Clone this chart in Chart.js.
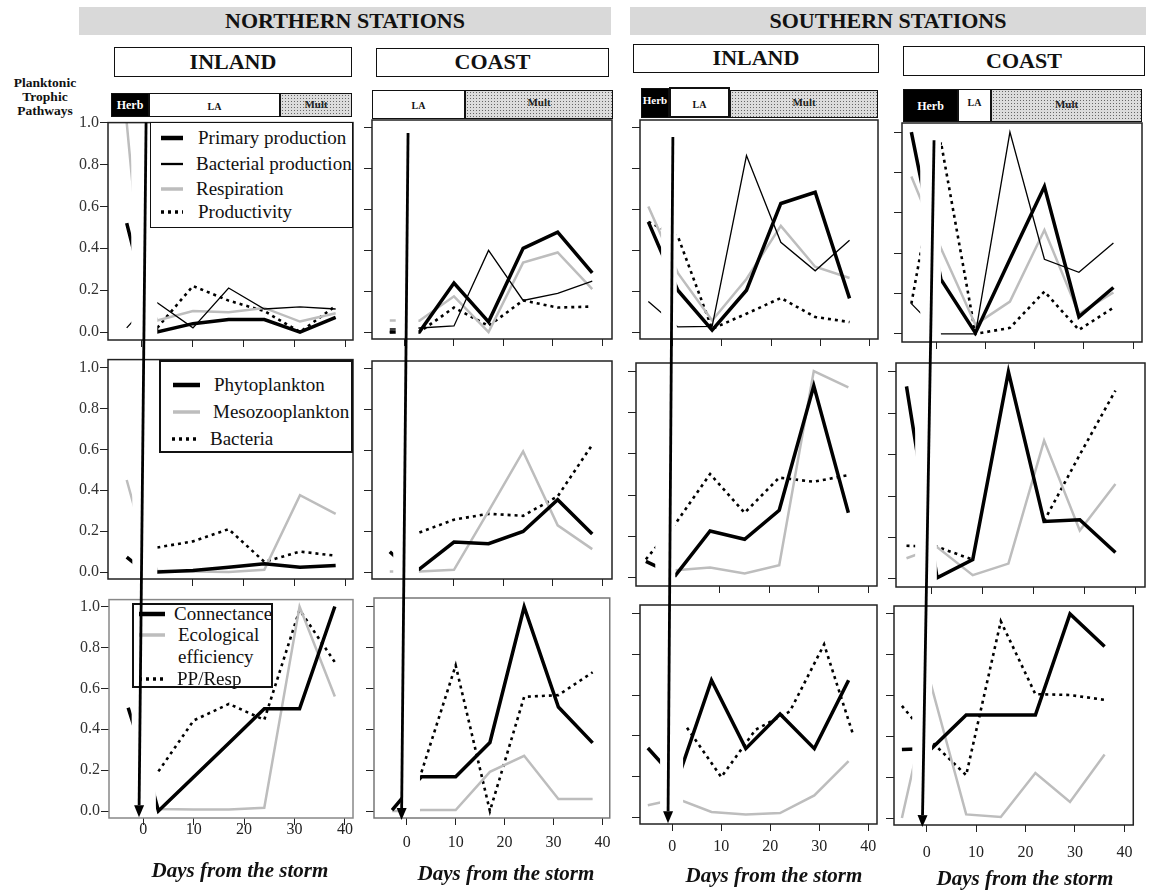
<!DOCTYPE html>
<html>
<head>
<meta charset="utf-8">
<script src="https://cdn.jsdelivr.net/npm/chart.js@4.4.1/dist/chart.umd.min.js"></script>
<style>
  body { margin: 0; background: #fff; width: 1151px; height: 892px; position: relative; overflow: hidden;
         font-family: "Liberation Serif", "DejaVu Serif", serif; color: #111; }
  canvas { position: absolute; }
  .band { position: absolute; background: #d9d9d9; font-weight: bold; font-size: 22px; text-align: center; line-height: 28px; }
  .site { position: absolute; border: 1.5px solid #111; box-sizing: border-box; font-weight: bold; font-size: 22px; text-align: center; background: #fff; }
  .path { position: absolute; box-sizing: border-box; border: 1.2px solid #111; font-weight: bold; text-align: center; }
  .herb { background: #000; color: #fff; font-size: 12px; }
  .la { background: #fff; font-size: 10px; }
  .mult { background-color: #dcdcdc; background-image: radial-gradient(circle, #666 38%, transparent 44%);
          background-size: 3px 3px; font-size: 11px; color: #222; }
  .legend { position: absolute; border: 1.5px solid #111; background: #fff; box-sizing: border-box; font-size: 19px; }
  .legend div { position: absolute; white-space: nowrap; line-height: 22px; }
  .legend svg { position: absolute; }
  .xtitle { position: absolute; font-weight: bold; font-style: italic; font-size: 21px; white-space: nowrap; transform: translate(-50%, -50%); }
  .side { position: absolute; left: 0; top: 76px; width: 90px; font-weight: bold; font-size: 13.5px; line-height: 14px; text-align: center; }
</style>
</head>
<body>
<div class="band" style="left:79px;top:7px;width:532px;height:28px">NORTHERN STATIONS</div>
<div class="band" style="left:630px;top:7px;width:516px;height:28px">SOUTHERN STATIONS</div>
<div class="site" style="left:114px;top:47px;width:238px;height:30px;line-height:27px">INLAND</div>
<div class="site" style="left:376px;top:48px;width:233px;height:29px;line-height:26px">COAST</div>
<div class="site" style="left:633px;top:44px;width:246px;height:29px;line-height:26px">INLAND</div>
<div class="site" style="left:903px;top:46px;width:242px;height:30px;line-height:27px">COAST</div>
<div class="side">Planktonic<br>Trophic<br>Pathways</div>

<div class="path herb" style="left:111px;top:93px;width:38px;height:24px;line-height:22px">Herb</div>
<div class="path la" style="left:149px;top:93px;width:131px;height:24px;line-height:26px">LA</div>
<div class="path mult" style="left:280px;top:93px;width:72px;height:24px;line-height:20px">Mult</div>

<div class="path la" style="left:372px;top:90px;width:93px;height:29px;line-height:30px">LA</div>
<div class="path mult" style="left:465px;top:90px;width:148px;height:29px;line-height:22px">Mult</div>

<div class="path herb" style="left:641px;top:88px;width:28px;height:30px;line-height:22px;font-size:11px">Herb</div>
<div class="path la" style="left:669px;top:87px;width:61px;height:31px;line-height:32px;border-width:2px">LA</div>
<div class="path mult" style="left:730px;top:90px;width:148px;height:28px;line-height:22px">Mult</div>

<div class="path herb" style="left:903px;top:89px;width:55px;height:33px;line-height:33px">Herb</div>
<div class="path la" style="left:958px;top:89px;width:33px;height:33px;line-height:26px">LA</div>
<div class="path mult" style="left:991px;top:89px;width:151px;height:33px;line-height:28px">Mult</div>

<script>
// sampling days (day 0 = storm; the day-0 value of the northern series sits under the storm arrow)
const daysNorth = [-3, 0, 3, 10, 17, 24, 31, 38]
const daysSouth = [-5, 1, 8, 15, 22, 29, 36]
const daysSouthInlandPPResp = [3, 10, 17, 24, 31, 37]
const xTicks = [0, 10, 20, 30, 40]
const yTicks = [0, 0.2, 0.4, 0.6, 0.8, 1.0]

// row 1: production / respiration (scaled 0-1)
const northInlandPrimary = [0.52, 0.23, 0.0, 0.04, 0.06, 0.06, 0.0, 0.07]
const northInlandBacterial = [0.02, 0.1, 0.14, 0.02, 0.21, 0.11, 0.12, 0.11]
const northInlandRespiration = [1.0, 0.22, 0.055, 0.1, 0.095, 0.115, 0.05, 0.09]
const northInlandProductivity = [null, null, 0.02, 0.22, 0.15, 0.1, 0.0, 0.125]

const northCoastPrimary = [0.0, 0.0, 0.0, 0.24, 0.05, 0.41, 0.49, 0.29]
const northCoastBacterial = [0.015, 0.015, 0.02, 0.03, 0.4, 0.155, 0.19, 0.25]
const northCoastRespiration = [0.057, 0.057, 0.055, 0.175, 0.0, 0.34, 0.39, 0.21]
const northCoastProductivity = [0.0, 0.0, 0.0, 0.12, 0.03, 0.155, 0.12, 0.125]

const southInlandPrimary = [0.54, 0.205, 0.01, 0.205, 0.63, 0.685, 0.165]
const southInlandBacterial = [0.15, 0.025, 0.028, 0.865, 0.44, 0.3, 0.45]
const southInlandRespiration = [0.615, 0.29, 0.057, 0.26, 0.52, 0.32, 0.265]
const southInlandProductivity = [0.54, 0.47, 0.016, 0.09, 0.167, 0.074, 0.049]

const southCoastPrimary = [1.0, 0.27, 0.005, 0.37, 0.73, 0.085, 0.23]
const southCoastBacterial = [0.15, 0.0, 0.0, 1.0, 0.37, 0.305, 0.45]
const southCoastRespiration = [0.78, 0.425, 0.046, 0.16, 0.515, 0.1, 0.205]
const southCoastProductivity = [0.15, 0.95, 0.0, 0.03, 0.21, 0.02, 0.13]

// row 2: biomass
const northInlandPhyto = [0.073, 0.013, 0.0, 0.008, 0.023, 0.04, 0.023, 0.032]
const northInlandMeso = [0.45, 0.18, 0.006, 0.003, 0.0, 0.011, 0.376, 0.284]
const northInlandBacteria = [null, null, 0.12, 0.15, 0.21, 0.05, 0.1, 0.08]

const northCoastPhyto = [0.1, 0.035, 0.015, 0.148, 0.14, 0.2, 0.356, 0.187]
const northCoastMeso = [0.003, 0.003, 0.003, 0.011, 0.3, 0.594, 0.23, 0.113]
const northCoastBacteria = [null, null, 0.195, 0.258, 0.287, 0.277, 0.373, 0.627]

const southInlandPhyto = [0.08, 0.013, 0.227, 0.187, 0.327, 0.929, 0.315]
const southInlandMeso = [null, 0.037, 0.05, 0.021, 0.061, 1.0, 0.921]
const southInlandBacteria = [0.09, 0.263, 0.502, 0.315, 0.485, 0.465, 0.497]

const southCoastPhyto = [0.93, 0.005, 0.093, 1.0, 0.278, 0.286, 0.128]
const southCoastMeso = [0.1, 0.154, 0.018, 0.074, 0.668, 0.234, 0.459]
const southCoastBacteria = [0.16, 0.155, 0.093, null, 0.28, 0.6, 0.91]

// row 3: food web indices
const northInlandConnectance = [0.505, 0.27, 0.0, 0.167, 0.333, 0.5, 0.5, 1.0]
const northInlandEfficiency = [null, 0.31, 0.01, 0.008, 0.008, 0.016, 1.0, 0.56]
const northInlandPPResp = [null, null, 0.194, 0.443, 0.524, 0.446, 0.984, 0.728]

const northCoastConnectance = [0.005, 0.09, 0.168, 0.168, 0.336, 1.0, 0.51, 0.334]
const northCoastEfficiency = [0.0, 0.0, 0.005, 0.005, 0.192, 0.271, 0.059, 0.059]
const northCoastPPResp = [null, null, 0.19, 0.714, 0.0, 0.56, 0.568, 0.68]

const southInlandConnectance = [0.34, 0.18, 0.674, 0.337, 0.507, 0.337, 0.674]
const southInlandEfficiency = [0.058, 0.09, 0.025, 0.013, 0.02, 0.107, 0.276]
const southInlandPPResp = [0.44, 0.197, 0.43, 0.52, 0.85, 0.4]

const southCoastConnectance = [0.336, 0.341, 0.505, 0.505, 0.505, 1.0, 0.841]
const southCoastEfficiency = [0.0, 0.644, 0.018, 0.005, 0.221, 0.079, 0.311]
const southCoastPPResp = [0.55, 0.374, 0.21, 0.964, 0.607, 0.603, 0.579]

// storm arrows: start in the top panel, tip in the bottom panel (day, value)
const arrowStartDay = [0.8, 0.7, 0.0, -0.4]
const arrowStartValue = [1.0, 0.975, 0.956, 0.96]
const arrowTipDay = [-0.85, -1.07, -0.88, -0.87]
const arrowTipValue = [-0.03, -0.044, -0.03, -0.044]

function lineStyle(kind) {
  if (kind === "thick") return { borderColor: "#000", borderWidth: 3.5 }
  if (kind === "thin") return { borderColor: "#000", borderWidth: 1.3 }
  if (kind === "grey") return { borderColor: "#bdbdbd", borderWidth: 2.5 }
  return { borderColor: "#000", borderWidth: 2.6, borderDash: [3, 4] }
}

const panels = [
  { frame: [108, 122, 245, 218], xr: [-6.67, 41.4], yr: [-0.038, 1.0], mask: [-2.1, 3.0], series: [
    [daysNorth, northInlandPrimary, "thick"], [daysNorth, northInlandBacterial, "thin"],
    [daysNorth, northInlandRespiration, "grey"], [daysNorth, northInlandProductivity, "dot"]] },
  { frame: [372, 120, 240, 219], xr: [-6.6, 42.0], yr: [-0.034, 1.039], mask: [-1.8, 2.8], series: [
    [daysNorth, northCoastPrimary, "thick"], [daysNorth, northCoastBacterial, "thin"],
    [daysNorth, northCoastRespiration, "grey"], [daysNorth, northCoastProductivity, "dot"]] },
  { frame: [640, 120, 238, 219], xr: [-6.7, 41.8], yr: [-0.034, 1.039], mask: [-2.4, 0.8], series: [
    [daysSouth, southInlandPrimary, "thick"], [daysSouth, southInlandBacterial, "thin"],
    [daysSouth, southInlandRespiration, "grey"], [daysSouth, southInlandProductivity, "dot"]] },
  { frame: [902, 123, 240, 219], xr: [-6.9, 41.8], yr: [-0.04, 1.045], mask: [-3.2, 1.0], series: [
    [daysSouth, southCoastPrimary, "thick"], [daysSouth, southCoastBacterial, "thin"],
    [daysSouth, southCoastRespiration, "grey"], [daysSouth, southCoastProductivity, "dot"]] },

  { frame: [108, 359, 245, 220], xr: [-6.67, 41.4], yr: [-0.034, 1.039], mask: [-1.9, 3.0], series: [
    [daysNorth, northInlandPhyto, "thick"], [daysNorth, northInlandMeso, "grey"], [daysNorth, northInlandBacteria, "dot"]] },
  { frame: [372, 361, 240, 218], xr: [-6.6, 42.0], yr: [-0.034, 1.039], mask: [-2.3, 2.9], series: [
    [daysNorth, northCoastPhyto, "thick"], [daysNorth, northCoastMeso, "grey"], [daysNorth, northCoastBacteria, "dot"]] },
  { frame: [636, 363, 241, 223], xr: [-7.0, 41.8], yr: [-0.039, 1.039], mask: [-3.1, 0.95], series: [
    [daysSouth, southInlandPhyto, "thick"], [daysSouth, southInlandMeso, "grey"], [daysSouth, southInlandBacteria, "dot"]] },
  { frame: [896, 363, 249, 224], xr: [-7.06, 41.8], yr: [-0.039, 1.043], mask: [-3.3, 0.95], series: [
    [daysSouth, southCoastPhyto, "thick"], [daysSouth, southCoastMeso, "grey"], [daysSouth, southCoastBacteria, "dot"]] },

  { frame: [109, 599, 244, 219], xr: [-6.8, 41.6], yr: [-0.034, 1.034], mask: [-2.3, 2.5], frameColor: "#888", labelPad: -4.6, series: [
    [daysNorth, northInlandConnectance, "thick"], [daysNorth, northInlandEfficiency, "grey"], [daysNorth, northInlandPPResp, "dot"]] },
  { frame: [374, 598, 239, 220], xr: [-6.7, 41.5], yr: [-0.034, 1.044], mask: [-1.2, 2.7], frameColor: "#777", labelPad: 8.4, series: [
    [daysNorth, northCoastConnectance, "thick"], [daysNorth, northCoastEfficiency, "grey"], [daysNorth, northCoastPPResp, "dot"]] },
  { frame: [640, 605, 237, 219], xr: [-6.6, 41.8], yr: [-0.034, 1.044], mask: [-2.5, 2.2], labelPad: 6.4, series: [
    [daysSouth, southInlandConnectance, "thick"], [daysSouth, southInlandEfficiency, "grey"], [daysSouthInlandPPResp, southInlandPPResp, "dot"]] },
  { frame: [894, 606, 244, 219], xr: [-6.6, 41.8], yr: [-0.034, 1.039], mask: [-2.9, 1.1], labelPad: 11.4, series: [
    [daysSouth, southCoastConnectance, "thick"], [daysSouth, southCoastEfficiency, "grey"], [daysSouth, southCoastPPResp, "dot"]] },
]

const maskAndFrame = {
  id: "maskAndFrame",
  afterDatasetsDraw(chart, args, opts) {
    const { ctx, chartArea: a, scales } = chart
    const x0 = scales.x.getPixelForValue(opts.mask[0])
    const x1 = scales.x.getPixelForValue(opts.mask[1])
    ctx.save()
    ctx.fillStyle = "#fff"
    ctx.fillRect(x0, a.top + 1, x1 - x0, a.bottom - a.top - 2)
    ctx.strokeStyle = opts.frameColor
    ctx.lineWidth = 1.5
    ctx.strokeRect(a.left, a.top, a.right - a.left, a.bottom - a.top)
    ctx.restore()
  },
}

const PADL = 40, PADT = 10, PADR = 6
const tickFont = { family: "'Liberation Serif', 'DejaVu Serif', serif", size: 16 }
const charts = []
const boxes = []

panels.forEach((p, i) => {
  const row = Math.floor(i / 4), col = i % 4
  const bottomRow = row === 2
  const padB = bottomRow ? 45 : 14
  const [fl, ft, fw, fh] = p.frame
  const box = { left: fl - PADL, top: ft - PADT, width: fw + PADL + PADR, height: fh + PADT + padB }
  boxes.push(box)
  const canvas = document.createElement("canvas")
  canvas.width = box.width
  canvas.height = box.height
  canvas.style.left = box.left + "px"
  canvas.style.top = box.top + "px"
  document.body.appendChild(canvas)

  charts.push(new Chart(canvas, {
    type: "line",
    plugins: [maskAndFrame],
    data: {
      datasets: p.series.map(([days, values, kind]) => ({
        data: days.map((d, k) => ({ x: d, y: values[k] })),
        ...lineStyle(kind),
        pointRadius: 0,
        tension: 0,
        borderCapStyle: "butt",
        borderJoinStyle: "miter",
      })),
    },
    options: {
      responsive: false,
      animation: false,
      devicePixelRatio: 1,
      layout: { padding: { top: PADT, right: PADR, left: 0, bottom: 0 } },
      plugins: {
        legend: { display: false },
        tooltip: { enabled: false },
        maskAndFrame: { mask: p.mask, frameColor: p.frameColor || "#222" },
      },
      scales: {
        x: {
          type: "linear",
          min: p.xr[0],
          max: p.xr[1],
          afterBuildTicks: (s) => { s.ticks = xTicks.map((v) => ({ value: v })) },
          afterFit: (s) => { s.height = padB },
          grid: { drawOnChartArea: false, drawTicks: true, tickLength: 7, color: "#222" },
          border: { display: false },
          ticks: {
            display: bottomRow,
            color: "#222",
            font: tickFont,
            padding: p.labelPad || 0,
            maxRotation: 0,
            autoSkip: false,
            callback: (v) => String(v),
          },
        },
        y: {
          type: "linear",
          min: p.yr[0],
          max: p.yr[1],
          afterBuildTicks: (s) => { s.ticks = yTicks.map((v) => ({ value: v })) },
          afterFit: (s) => { s.width = PADL },
          grid: { drawOnChartArea: false, drawTicks: true, tickLength: 8, color: "#222" },
          border: { display: false },
          ticks: {
            display: col === 0,
            color: "#333",
            font: tickFont,
            padding: 1,
            autoSkip: false,
            callback: (v) => v.toFixed(1),
          },
        },
      },
    },
  }))
})

// x-axis titles
const titleCentres = [[240, 870], [506, 873], [774, 875], [1025, 878]]
titleCentres.forEach(([x, y]) => {
  const t = document.createElement("div")
  t.className = "xtitle"
  t.style.left = x + "px"
  t.style.top = y + "px"
  t.textContent = "Days from the storm"
  document.body.appendChild(t)
})

// legends (first column)
function sample(kind, x, y, w) {
  const s = lineStyle(kind)
  const dash = s.borderDash ? `stroke-dasharray="${s.borderDash.join(" ")}"` : ""
  return `<svg width="${w}" height="10" style="left:${x}px;top:${y - 5}px"><line x1="0" y1="5" x2="${w}" y2="5" stroke="${s.borderColor}" stroke-width="${s.borderWidth + 1}" ${dash}/></svg>`
}
const legends = [
  { box: [150, 122, 203, 106], rows: [
    ["Primary production", "thick", 15, 10, 22, 47], ["Bacterial production", "thin", 41, 10, 22, 45],
    ["Respiration", "grey", 66, 10, 22, 45], ["Productivity", "dot", 89, 10, 22, 47]] },
  { box: [159, 360, 194, 93], rows: [
    ["Phytoplankton", "thick", 23, 12, 27, 53], ["Mesozooplankton", "grey", 50, 12, 27, 52],
    ["Bacteria", "dot", 77, 11, 27, 49]] },
  { box: [132, 603, 141, 85], rows: [
    ["Connectance", "thick", 9, 5, 26, 40], ["Ecological", "grey", 30, 5, 26, 44],
    ["efficiency", null, 52, 0, 0, 44], ["PP/Resp", "dot", 74, 5, 26, 43]] },
]
legends.forEach((lg, j) => {
  const d = document.createElement("div")
  d.className = "legend"
  const [l, t, w, h] = lg.box
  d.style.cssText = `left:${l}px;top:${t}px;width:${w}px;height:${h}px;border-width:${j === 0 ? 1.5 : 2}px`
  d.innerHTML = lg.rows.map(([label, kind, y, sx, sw, tx]) =>
    (kind ? sample(kind, sx, y, sw) : "") + `<div style="left:${tx}px;top:${y - 11}px">${label}</div>`).join("")
  document.body.appendChild(d)
})

// storm arrows across the three rows
const overlay = document.createElement("canvas")
overlay.width = 1151
overlay.height = 892
overlay.style.left = "0px"
overlay.style.top = "0px"
document.body.appendChild(overlay)
const actx = overlay.getContext("2d")
actx.strokeStyle = "#000"
actx.fillStyle = "#000"
actx.lineWidth = 2.8
for (let c = 0; c < 4; c++) {
  const top = charts[c], bot = charts[8 + c]
  const x0 = boxes[c].left + top.scales.x.getPixelForValue(arrowStartDay[c])
  const y0 = boxes[c].top + top.scales.y.getPixelForValue(arrowStartValue[c])
  const x1 = boxes[8 + c].left + bot.scales.x.getPixelForValue(arrowTipDay[c])
  const y1 = boxes[8 + c].top + bot.scales.y.getPixelForValue(arrowTipValue[c])
  const ang = Math.atan2(y1 - y0, x1 - x0)
  const hl = 12, hw = 5
  const bx = x1 - hl * Math.cos(ang), by = y1 - hl * Math.sin(ang)
  actx.beginPath()
  actx.moveTo(x0, y0)
  actx.lineTo(bx, by)
  actx.stroke()
  actx.beginPath()
  actx.moveTo(x1, y1)
  actx.lineTo(bx + hw * Math.sin(ang), by - hw * Math.cos(ang))
  actx.lineTo(bx - hw * Math.sin(ang), by + hw * Math.cos(ang))
  actx.closePath()
  actx.fill()
}
</script>
</body>
</html>
